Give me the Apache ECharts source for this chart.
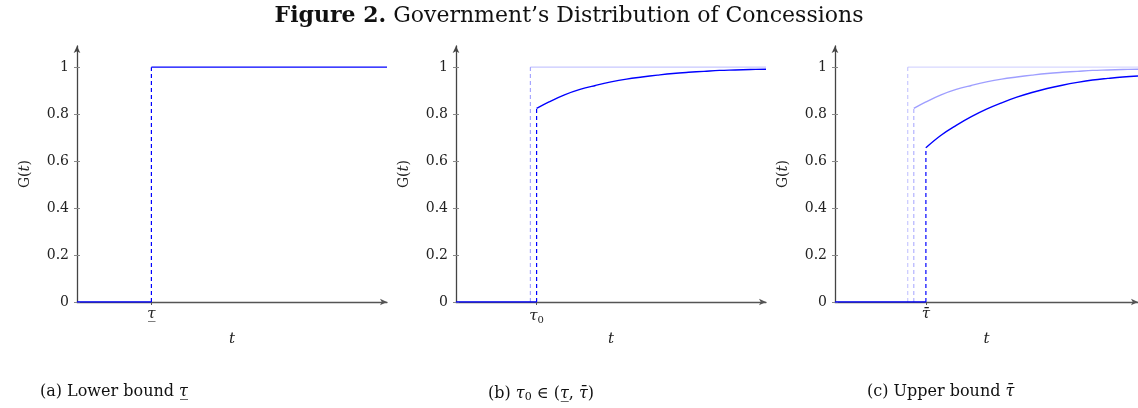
<!DOCTYPE html>
<html>
<head>
<meta charset="utf-8">
<script src="https://cdn.jsdelivr.net/npm/echarts@6/dist/echarts.min.js"></script>
<style>
  html, body { margin: 0; padding: 0; background: #fff; }
  #chart { width: 1138px; height: 408px; }
</style>
</head>
<body>
<div id="chart"></div>
<script>
// Threshold times and axis settings
const tauLow = 2.4;
const tau0 = 2.6;
const tauHigh = 3.0;
const tMin = 0;
const tMax = 10;
const gMax = 1.09;
const yTicks = [0, 0.2, 0.4, 0.6, 0.8, 1];

// Distribution starting at tau0
const midT = [2.6, 3.0, 3.5, 4.0, 4.5, 5.0, 5.5, 6.0, 6.5, 7.0, 7.5, 8.0, 8.5, 9.0, 9.5, 10.0];
const midG = [0.824, 0.852, 0.882, 0.905, 0.922, 0.937, 0.949, 0.958, 0.966, 0.973, 0.978, 0.982, 0.986, 0.988, 0.990, 0.991];

// Distribution starting at the upper bound
const highT = [3.0, 3.5, 4.0, 4.5, 5.0, 5.5, 6.0, 6.5, 7.0, 7.5, 8.0, 8.5, 9.0, 9.5, 10.0];
const highG = [0.657, 0.710, 0.752, 0.789, 0.821, 0.848, 0.872, 0.892, 0.909, 0.923, 0.935, 0.945, 0.952, 0.958, 0.962];

const figureTitle = 'Figure 2.';
const figureSubtitle = ' Government\u2019s Distribution of Concessions';
const captions = [
  '(a) Lower bound {i|\u03C4\u0332}',
  '(b) {i|\u03C4}{s|0} \u2208 ({i|\u03C4\u0332}, {i|\u03C4\u0304})',
  '(c) Upper bound {i|\u03C4\u0304}'
];
const tickNames = ['{i|\u03C4\u0332}', '{i|\u03C4}{s|0}', '{i|\u03C4\u0304}'];
const tickValues = [tauLow, tau0, tauHigh];

const FONT = 'DejaVu Serif';
const BLUE = '#0000ff';
const AXIS = '#555555';

const richText = {
  i: { fontFamily: FONT, fontStyle: 'italic', fontSize: 15, color: '#222', fontWeight: 'normal' },
  s: { fontFamily: FONT, fontSize: 10, color: '#222', padding: [8, 0, 0, 0], fontWeight: 'normal' },
  n: { fontFamily: FONT, fontSize: 14, color: '#222', fontWeight: 'normal' }
};

const gridLefts = [77, 456, 835];
const grids = gridLefts.map(l => ({ left: l, top: 46, width: 310, height: 256 }));

const xAxes = gridLefts.map((_, k) => ({
  type: 'value', gridIndex: k, min: tMin, max: tMax,
  axisLine: { show: true, lineStyle: { color: AXIS, width: 1.3 }, symbol: ['none', 'arrow'], symbolSize: [5, 7] },
  axisTick: { show: true, customValues: [tickValues[k]], length: 3, lineStyle: { color: AXIS } },
  axisLabel: {
    show: true, customValues: [tickValues[k]], margin: 5,
    formatter: () => tickNames[k], rich: richText
  },
  splitLine: { show: false },
  name: '{i|t}', nameLocation: 'middle', nameGap: 30,
  nameTextStyle: { rich: richText }
}));

const yAxes = [];
gridLefts.forEach((_, k) => {
  yAxes.push({
    type: 'value', gridIndex: k, min: 0, max: gMax, position: 'left',
    axisLine: { show: true, lineStyle: { color: '#444', width: 1.3 }, symbol: ['none', 'arrow'], symbolSize: [5, 7] },
    axisTick: { show: true, customValues: yTicks, length: 3, lineStyle: { color: '#888' } },
    axisLabel: {
      show: true, customValues: yTicks, margin: 8,
      formatter: v => String(v), fontFamily: FONT, fontSize: 14, color: '#222'
    },
    splitLine: { show: false },
    name: '{n|G(}{i|t}{n|)}', nameLocation: 'middle', nameGap: 44, nameRotate: 90,
    nameTextStyle: { rich: richText }
  });
  // inner half of the tick marks
  yAxes.push({
    type: 'value', gridIndex: k, min: 0, max: gMax, position: 'left',
    axisLine: { show: false },
    axisTick: { show: true, inside: true, customValues: yTicks, length: 3, lineStyle: { color: '#888' } },
    axisLabel: { show: false },
    splitLine: { show: false }
  });
});

function seg(k, pts, color, dashed, z) {
  return {
    type: 'line', xAxisIndex: k, yAxisIndex: 2 * k, data: pts,
    symbol: 'none', silent: true, z: z || 2,
    lineStyle: { color: color, width: dashed ? 1.2 : 1.3, type: dashed ? [4, 3] : 'solid' }
  };
}
function curve(k, ts, gs, color, z) {
  return {
    type: 'line', xAxisIndex: k, yAxisIndex: 2 * k, data: ts.map((t, i) => [t, gs[i]]),
    symbol: 'none', silent: true, smooth: 0.4, z: z || 2,
    lineStyle: { color: color, width: 1.4 }
  };
}

const LIGHT1 = 'rgba(0,0,255,0.22)';
const LIGHT1D = 'rgba(0,0,255,0.35)';
const LIGHT2 = 'rgba(0,0,255,0.16)';
const LIGHT2D = 'rgba(0,0,255,0.22)';
const MID = 'rgba(0,0,255,0.38)';
const MIDD = 'rgba(0,0,255,0.30)';

const series = [
  // (a) point mass at the lower bound
  seg(0, [[tMin, 0], [tauLow, 0]], BLUE, false, 3),
  seg(0, [[tauLow, 0], [tauLow, 1]], BLUE, true, 3),
  seg(0, [[tauLow, 1], [tMax, 1]], BLUE, false, 3),

  // (b) interior tau0
  seg(1, [[tauLow, 0], [tauLow, 1]], LIGHT1D, true, 2),
  seg(1, [[tauLow, 1], [tMax, 1]], LIGHT1, false, 2),
  seg(1, [[tMin, 0], [tau0, 0]], BLUE, false, 3),
  seg(1, [[tau0, 0], [tau0, midG[0]]], BLUE, true, 3),
  curve(1, midT, midG, BLUE, 3),

  // (c) upper bound
  seg(2, [[tauLow, 0], [tauLow, 1]], LIGHT2D, true, 2),
  seg(2, [[tauLow, 1], [tMax, 1]], LIGHT2, false, 2),
  seg(2, [[tau0, 0], [tau0, midG[0]]], MIDD, true, 2),
  curve(2, midT, midG, MID, 2),
  seg(2, [[tMin, 0], [tauHigh, 0]], BLUE, false, 3),
  seg(2, [[tauHigh, 0], [tauHigh, highG[0]]], BLUE, true, 3),
  curve(2, highT, highG, BLUE, 3)
];

const captionRich = {
  r: { fontFamily: FONT, fontSize: 16, color: '#111', fontWeight: 'normal' },
  i: { fontFamily: FONT, fontStyle: 'italic', fontSize: 16, color: '#111', fontWeight: 'normal' },
  s: { fontFamily: FONT, fontSize: 11, color: '#111', fontWeight: 'normal', padding: [8, 0, 0, 0] }
};
const captionLefts = [35, 483, 862];
const titles = [{
  text: '{b|' + figureTitle + '}{r|' + figureSubtitle + '}',
  left: 'center', top: 0,
  textStyle: {
    fontWeight: 'normal',
    rich: {
      b: { fontFamily: FONT, fontWeight: 'bold', fontSize: 22, color: '#111' },
      r: { fontFamily: FONT, fontWeight: 'normal', fontSize: 22, color: '#111' }
    }
  }
}].concat(captions.map((c, k) => ({
  text: '{r|' + c.replace(/\{i\|/g, '}{i|').replace(/\{s\|/g, '}{s|').replace(/\}(?!\{)/g, '}{r|') + '}',
  left: captionLefts[k], top: 379,
  textStyle: { fontWeight: 'normal', rich: captionRich }
})));

const chart = echarts.init(document.getElementById('chart'), null, { renderer: 'canvas' });
chart.setOption({
  animation: false,
  backgroundColor: '#fff',
  title: titles,
  grid: grids,
  xAxis: xAxes,
  yAxis: yAxes,
  series: series
});
</script>
</body>
</html>
